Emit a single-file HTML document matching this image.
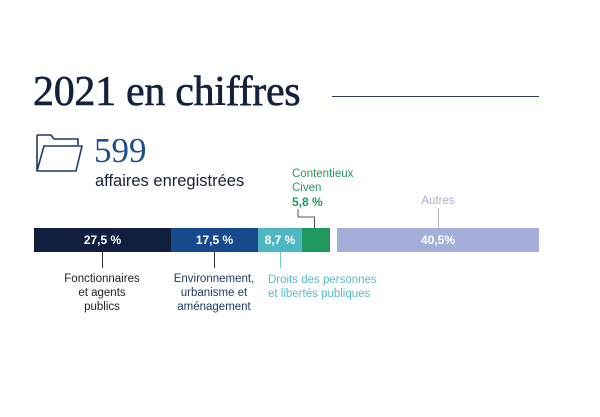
<!DOCTYPE html>
<html><head><meta charset="utf-8"><style>
body{margin:0;width:600px;height:417px;background:#fff;position:relative;overflow:hidden;font-family:"Liberation Sans",sans-serif}
.a{position:absolute;white-space:nowrap}
.seg{position:absolute;top:228px;height:24px;color:#fff;font-weight:bold;font-size:12px;line-height:24px;text-align:center}
.lbl{position:absolute;font-size:11.5px;line-height:14px;text-align:center;white-space:nowrap}
.v{position:absolute;width:1px}
</style></head><body>
<div class="a" style="left:33px;top:68px;font-family:'Liberation Serif',serif;font-size:42px;color:#14213d;letter-spacing:-0.3px;-webkit-text-stroke:0.6px #14213d">2021 en chiffres</div>
<div class="a" style="left:332px;top:96px;width:207px;height:1px;background:#2a3a5a"></div>
<svg class="a" style="left:35px;top:133px" width="50" height="42" viewBox="0 0 50 42">
<path d="M2 2 H16 L19 6 H43 V12" fill="none" stroke="#1f3a66" stroke-width="1.6"/>
<path d="M2 2 V38 H41 L47 13 H9 L2 38" fill="none" stroke="#1f3a66" stroke-width="1.6" stroke-linejoin="round"/>
</svg>
<div class="a" style="left:94px;top:131px;font-family:'Liberation Serif',serif;font-size:35px;color:#1f4f8a">599</div>
<div class="a" style="left:95px;top:172px;font-size:16.5px;color:#14213d">affaires enregistrées</div>
<div class="seg" style="left:34px;width:137px;background:#0f1f3d">27,5 %</div>
<div class="seg" style="left:171px;width:87px;background:#174a8c">17,5 %</div>
<div class="seg" style="left:258px;width:44px;background:#4fb7c4">8,7 %</div>
<div class="seg" style="left:302px;width:28px;background:#1f9a5c"></div>
<div class="seg" style="left:337px;width:202px;background:#a5aed8">40,5%</div>
<div class="v" style="left:102px;top:252px;height:16px;background:#333"></div>
<div class="v" style="left:214px;top:252px;height:16px;background:#333"></div>
<div class="v" style="left:280px;top:252px;height:16px;background:#6cc"></div>
<div class="v" style="left:438px;top:208px;height:20px;background:#b5bbdd"></div>
<svg class="a" style="left:290px;top:209px" width="30" height="20"><path d="M8 0 V8 H24.5 V19" fill="none" stroke="#555" stroke-width="1"/></svg>
<div class="lbl" style="left:52px;top:272px;width:100px;color:#222">Fonctionnaires<br>et agents<br>publics</div>
<div class="lbl" style="left:164px;top:272px;width:100px;color:#1f3a66">Environnement,<br>urbanisme et<br>aménagement</div>
<div class="lbl" style="left:268px;top:273px;text-align:left;color:#58bcc8">Droits des personnes<br>et libertés publiques</div>
<div class="lbl" style="left:292px;top:167px;text-align:left;color:#1f9a5c">Contentieux<br>Civen<br><b style="font-size:12px">5,8 %</b></div>
<div class="lbl" style="left:420px;top:194px;width:36px;color:#a8aed0">Autres</div>
</body></html>
